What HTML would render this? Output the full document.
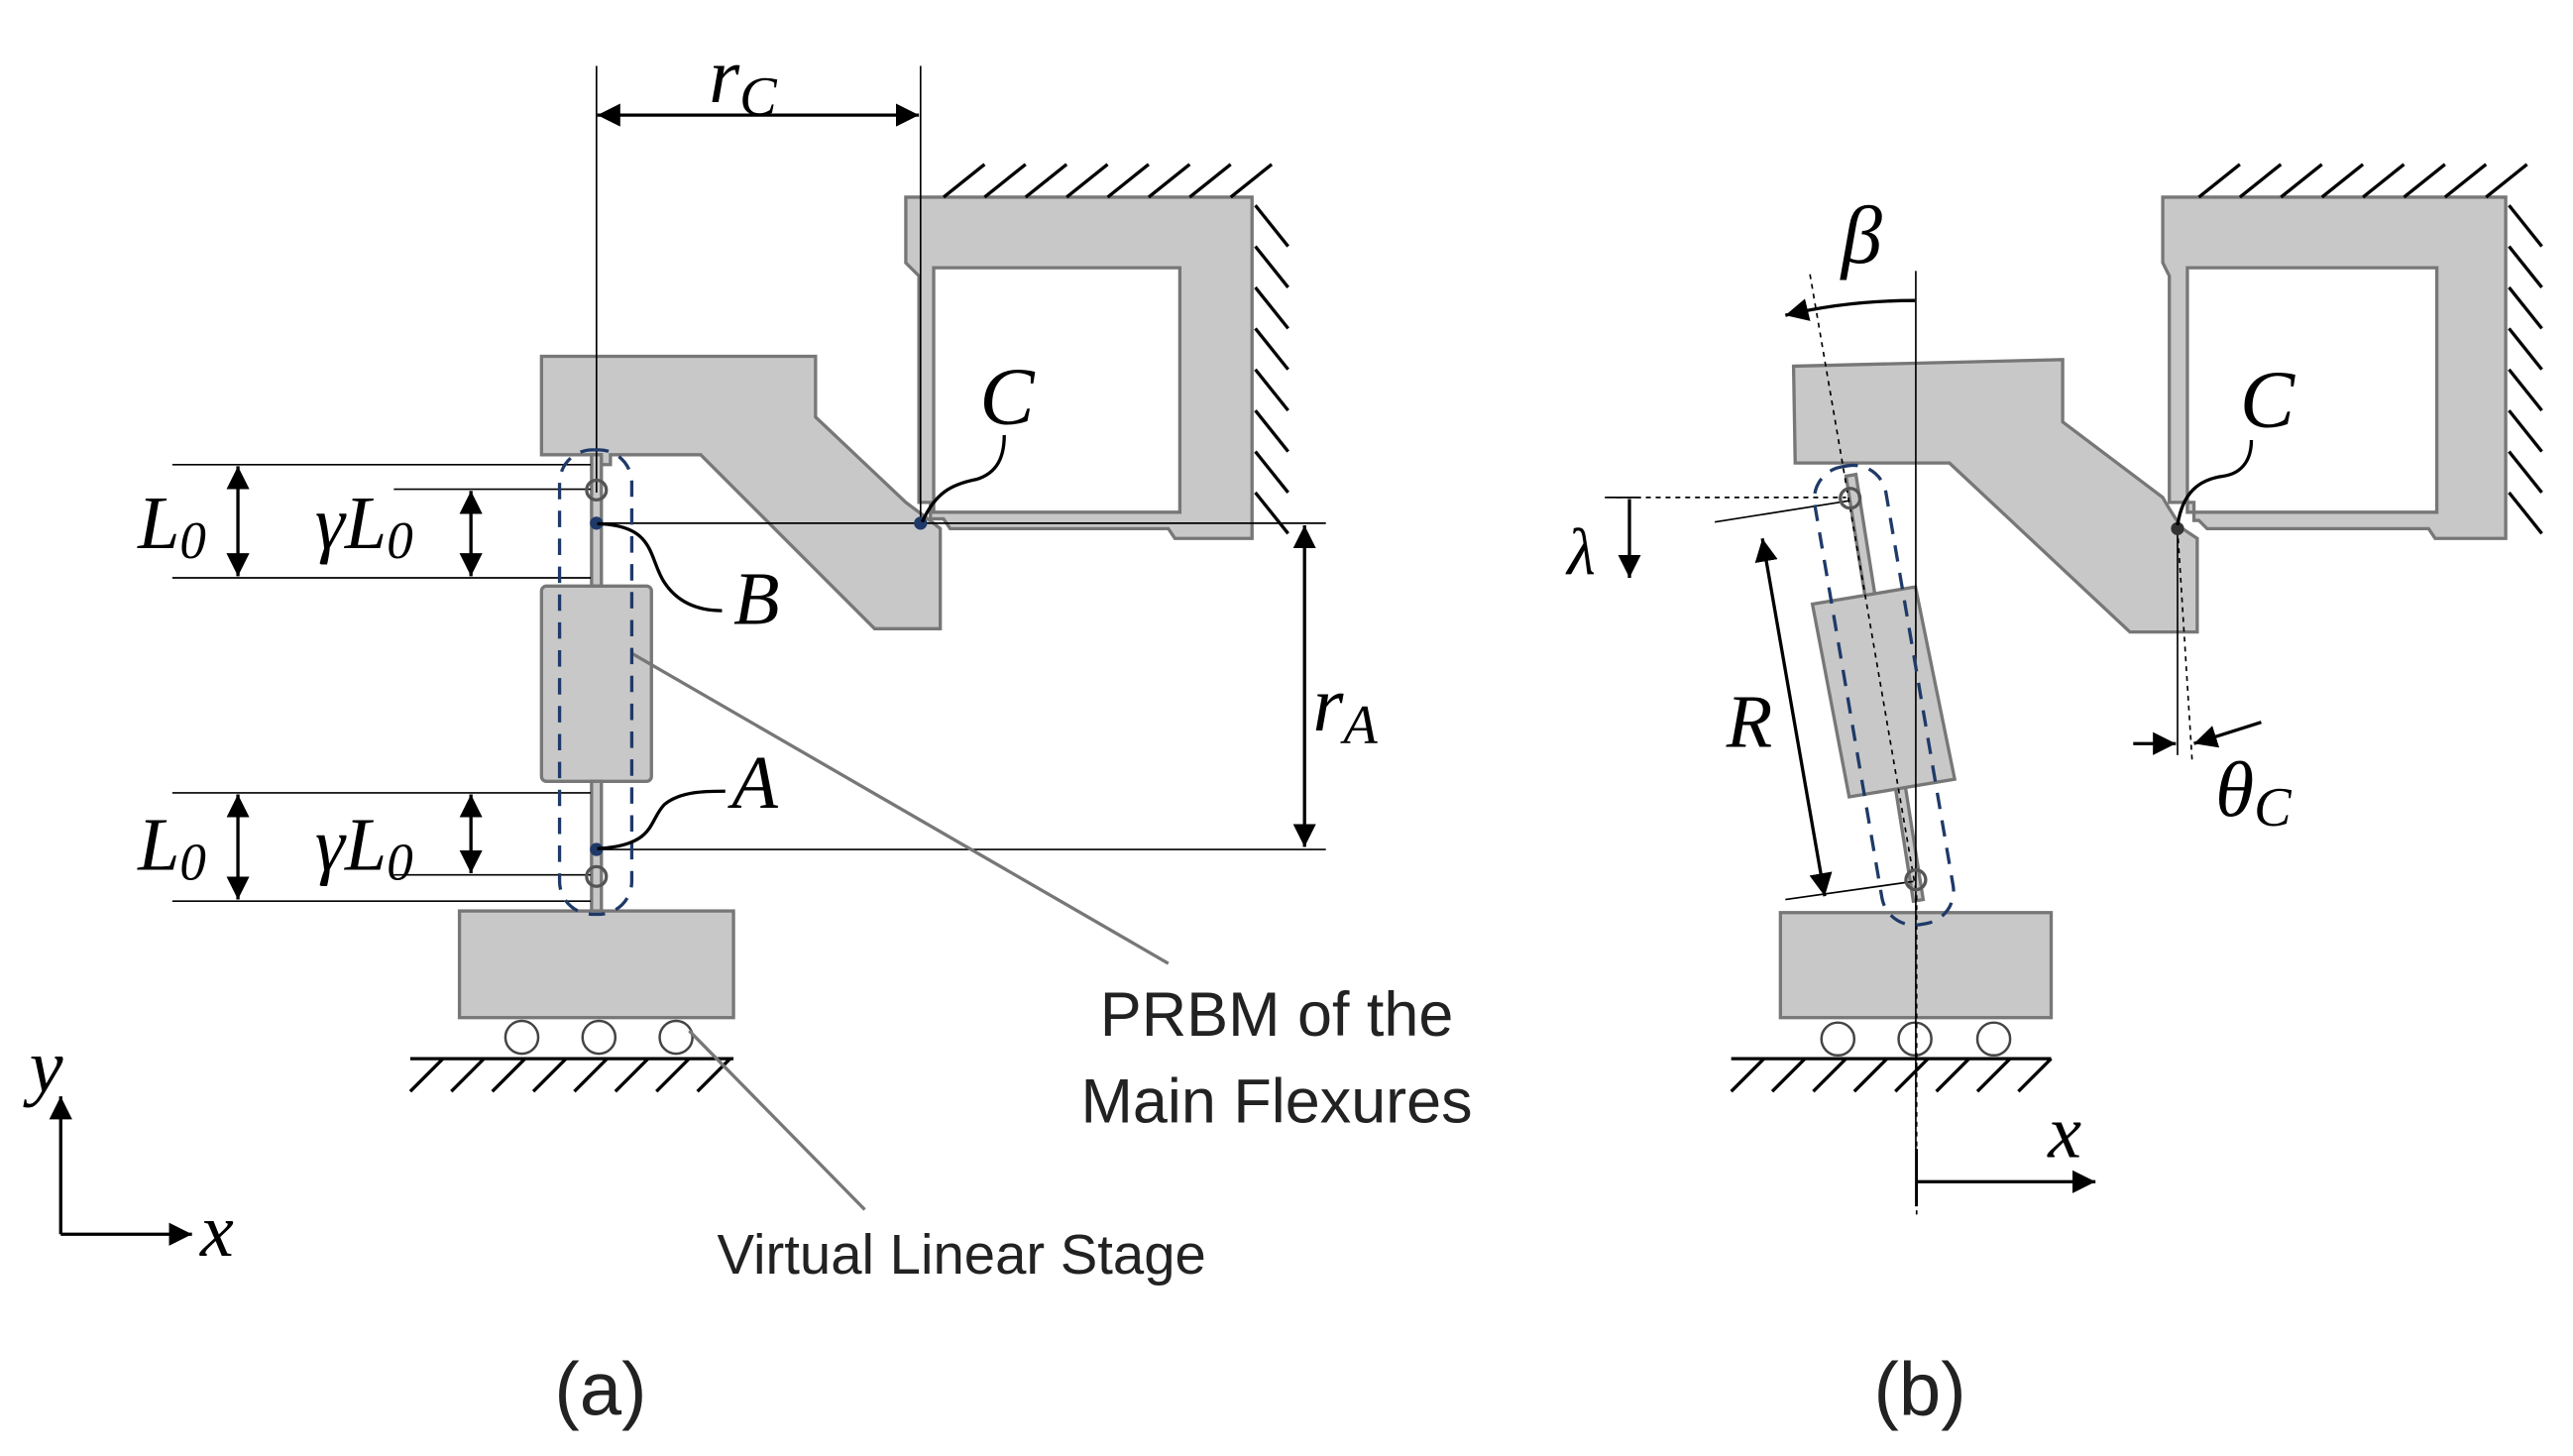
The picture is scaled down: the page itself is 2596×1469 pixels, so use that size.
<!DOCTYPE html>
<html><head><meta charset="utf-8"><style>
html,body{margin:0;padding:0;background:#fff}
svg{display:block}
.m{font-family:"Liberation Serif",serif;font-style:italic;fill:#000}
.t{font-family:"Liberation Sans",sans-serif;fill:#222}
</style></head><body>
<svg width="2596" height="1469" viewBox="0 0 1568 887" xmlns="http://www.w3.org/2000/svg">
<defs>
<marker id="ab" viewBox="0 0 10 10" refX="10" refY="5" markerWidth="14" markerHeight="14" markerUnits="userSpaceOnUse" orient="auto-start-reverse"><path d="M0,0L10,5L0,10z" fill="#000"/></marker>
</defs>
<g fill="#c8c8c8" stroke="#777" stroke-width="2">
<path d="M552,120 H763 V328 H716 L712,322 H579 L575,316 H567 V306 H560 V168 L552,160 Z M569,163 V312 H719 V163 Z" fill-rule="evenodd"/>
<path d="M330,217 H497 V254 L552,306 Q560,312 568,318 L573,322 V383 H533 L427,277 H372 V283 H366 V277 H330 Z"/>
<rect x="360.5" y="277" width="6" height="80"/>
<rect x="330" y="357" width="67" height="119" rx="3"/>
<rect x="360.5" y="476" width="6" height="79"/>
<rect x="280" y="555" width="167" height="65"/>
<path d="M1318,120 H1527 V328 H1484 L1480,322 H1345 L1340,317 H1337 V306 H1322 V168 L1318,160 Z M1333,163 V312 H1485 V163 Z" fill-rule="evenodd"/>
<path d="M1093,223 L1257,219 V257 L1318,303 Q1323,312 1330,322 L1339,328 V385 H1298 L1188,282 H1094 Z"/>
<path d="M1125,290 L1131,289 L1172,548 L1166,549 Z"/>
<path d="M1104.5,368 L1167.3,357.5 L1191.2,474.7 L1126.9,485.5 Z"/>
<rect x="1085" y="556" width="165" height="64"/>
</g>
<g fill="none" stroke="#000" stroke-width="2">
<path d="M575,120 l25,-20 M600,120 l25,-20 M625,120 l25,-20 M650,120 l25,-20 M675,120 l25,-20 M700,120 l25,-20 M725,120 l25,-20 M750,120 l25,-20"/>
<path d="M765,125 l20,25 M765,150 l20,25 M765,175 l20,25 M765,200 l20,25 M765,225 l20,25 M765,250 l20,25 M765,275 l20,25 M765,300 l20,25"/>
<path d="M1340,120 l25,-20 M1365,120 l25,-20 M1390,120 l25,-20 M1415,120 l25,-20 M1440,120 l25,-20 M1465,120 l25,-20 M1490,120 l25,-20 M1515,120 l25,-20"/>
<path d="M1529,125 l20,25 M1529,150 l20,25 M1529,175 l20,25 M1529,200 l20,25 M1529,225 l20,25 M1529,250 l20,25 M1529,275 l20,25 M1529,300 l20,25"/>
<path d="M250,645 H447 M270,645 l-20,20 M295,645 l-20,20 M320,645 l-20,20 M345,645 l-20,20 M370,645 l-20,20 M395,645 l-20,20 M420,645 l-20,20 M445,645 l-20,20"/>
<path d="M1055,645 H1250 M1075,645 l-20,20 M1100,645 l-20,20 M1125,645 l-20,20 M1150,645 l-20,20 M1175,645 l-20,20 M1200,645 l-20,20 M1225,645 l-20,20 M1250,645 l-20,20"/>
</g>
<g fill="#fff" stroke="#444" stroke-width="1.5">
<circle cx="318" cy="632" r="10"/><circle cx="365" cy="632" r="10"/><circle cx="412" cy="632" r="10"/>
<circle cx="1120" cy="633" r="10"/><circle cx="1167" cy="633" r="10"/><circle cx="1215" cy="633" r="10"/>
</g>
<g stroke="#000" stroke-width="1" fill="none">
<path d="M363.5,40 V300 M561,40 V318"/>
<path d="M105,283 H360 M240,298 H360 M363,318.7 H808 M105,352 H360 M105,483 H360 M363,517.5 H808 M240,533 H360 M105,549 H360"/>
<path d="M1167.5,165 V735"/>
<path d="M1327,322 V460"/>
<path d="M1045,318 L1127,305 M1088,548 L1166,537"/>
<path d="M978,303 H1000"/>
</g>
<g stroke="#000" stroke-width="1" stroke-dasharray="3,3" fill="none">
<path d="M1103,167 L1168,545 V740"/>
<path d="M985,303 H1125"/>
<path d="M1327,322 L1336,465"/>
</g>
<g stroke="#000" stroke-width="2" fill="none">
<line x1="364" y1="70" x2="560" y2="70" marker-start="url(#ab)" marker-end="url(#ab)"/>
<line x1="145" y1="284" x2="145" y2="351" marker-start="url(#ab)" marker-end="url(#ab)"/>
<line x1="287" y1="299" x2="287" y2="351" marker-start="url(#ab)" marker-end="url(#ab)"/>
<line x1="145" y1="484" x2="145" y2="548" marker-start="url(#ab)" marker-end="url(#ab)"/>
<line x1="287" y1="484" x2="287" y2="532" marker-start="url(#ab)" marker-end="url(#ab)"/>
<line x1="795" y1="320" x2="795" y2="516" marker-start="url(#ab)" marker-end="url(#ab)"/>
<line x1="37" y1="752" x2="37" y2="668" marker-end="url(#ab)"/>
<line x1="37" y1="752" x2="117" y2="752" marker-end="url(#ab)"/>
<line x1="1168" y1="720" x2="1277" y2="720" marker-end="url(#ab)"/>
<line x1="993" y1="304" x2="993" y2="352" marker-end="url(#ab)"/>
<line x1="1074" y1="328" x2="1112" y2="546" marker-start="url(#ab)" marker-end="url(#ab)"/>
<path d="M1167,183 Q1125,183 1088,192" marker-end="url(#ab)"/>
<line x1="1300" y1="453" x2="1326" y2="453" marker-end="url(#ab)"/>
<path d="M1378,440 L1337,453" marker-end="url(#ab)"/>
</g>
<path d="M1168,700 V735" stroke="#000" stroke-width="1.5"/>
<g stroke="#777" stroke-width="2" fill="none">
<line x1="385" y1="398" x2="712" y2="587"/>
<line x1="420" y1="628" x2="527" y2="737"/>
</g>
<rect x="341" y="274" width="44" height="283" rx="20" fill="none" stroke="#1f3a68" stroke-width="2" stroke-dasharray="10,7"/>
<rect x="1126" y="282" width="44" height="283" rx="20" fill="none" stroke="#1f3a68" stroke-width="2" stroke-dasharray="10,7" transform="rotate(-9.7 1148 423)"/>
<g fill="none" stroke="#555" stroke-width="2">
<circle cx="363.5" cy="298.5" r="6"/><circle cx="363.5" cy="534" r="6"/>
<circle cx="1127.5" cy="303.5" r="6"/><circle cx="1167.5" cy="536" r="6"/>
</g>
<g fill="#1f3a68">
<circle cx="363.5" cy="318.7" r="4"/><circle cx="363.5" cy="517.5" r="4"/><circle cx="561" cy="318.7" r="4"/>
</g>
<circle cx="1327" cy="322" r="4" fill="#333"/>
<g fill="none" stroke="#000" stroke-width="2">
<path d="M364,319 C400,320 395,340 405,355 C415,370 430,372 440,372"/>
<path d="M364,517 C400,515 395,500 405,490 C415,482 430,482 442,482"/>
<path d="M562,318 C570,300 580,295 595,292 C608,288 612,278 612,265"/>
<path d="M1327,320 C1330,300 1340,292 1355,290 C1368,288 1372,278 1372,268"/>
</g>
<g class="m">
<text x="432" y="62" font-size="48">r<tspan font-size="34" dy="8">C</tspan></text>
<text x="84" y="334" font-size="46">L<tspan font-size="32" dy="6">0</tspan></text>
<text x="192" y="334" font-size="46">γL<tspan font-size="32" dy="6">0</tspan></text>
<text x="84" y="530" font-size="46">L<tspan font-size="32" dy="6">0</tspan></text>
<text x="192" y="530" font-size="46">γL<tspan font-size="32" dy="6">0</tspan></text>
<text x="447" y="380" font-size="46">B</text>
<text x="446" y="492" font-size="46">A</text>
<text x="597" y="258" font-size="50">C</text>
<text x="800" y="445" font-size="48">r<tspan font-size="34" dy="8">A</tspan></text>
<text x="18" y="665" font-size="46">y</text>
<text x="122" y="765" font-size="46">x</text>
<text x="1122" y="160" font-size="50">β</text>
<text x="1365" y="260" font-size="50">C</text>
<text x="955" y="350" font-size="40">λ</text>
<text x="1052" y="455" font-size="46">R</text>
<text x="1350" y="497" font-size="48">θ<tspan font-size="34" dy="6">C</tspan></text>
<text x="1248" y="705" font-size="46">x</text>
</g>
<g class="t">
<text x="778" y="631" font-size="38" text-anchor="middle">PRBM of the</text>
<text x="778" y="684" font-size="38" text-anchor="middle">Main Flexures</text>
<text x="586" y="776" font-size="34" text-anchor="middle">Virtual Linear Stage</text>
<text x="366" y="862" font-size="46" text-anchor="middle">(a)</text>
<text x="1170" y="862" font-size="46" text-anchor="middle">(b)</text>
</g>
</svg>
</body></html>
